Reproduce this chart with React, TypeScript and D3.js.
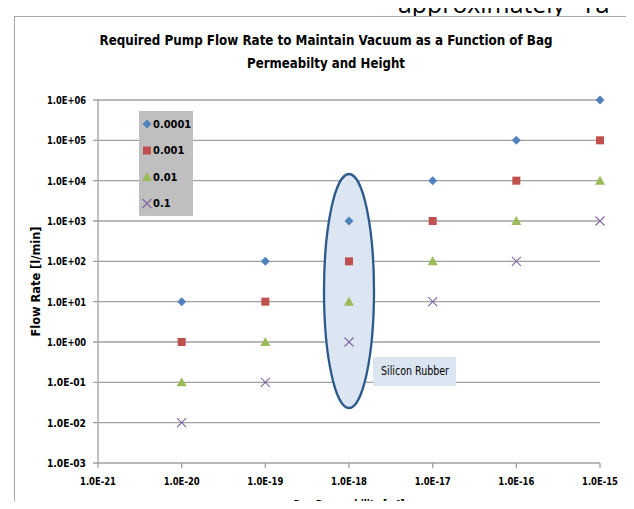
import * as d3 from 'd3';

const W = 634;
const H = 509;
const MARGIN = { top: 100, right: 34, bottom: 46, left: 98 };

const TITLE_LINES = [
  'Required Pump Flow Rate to Maintain Vacuum as a Function of Bag',
  'Permeabilty and Height',
];
const TITLE_WIDTHS = [453, 158];

const PERMEABILITY = [1e-20, 1e-19, 1e-18, 1e-17, 1e-16, 1e-15];
const X_TICKS = [1e-21, 1e-20, 1e-19, 1e-18, 1e-17, 1e-16, 1e-15];
const Y_TICKS = [1e-3, 1e-2, 1e-1, 1e0, 1e1, 1e2, 1e3, 1e4, 1e5, 1e6];

const SERIES_NAMES = ['0.0001', '0.001', '0.01', '0.1'];
const FLOW_00001 = [1e1, 1e2, 1e3, 1e4, 1e5, 1e6];
const FLOW_0001 = [1e0, 1e1, 1e2, 1e3, 1e4, 1e5];
const FLOW_001 = [1e-1, 1e0, 1e1, 1e2, 1e3, 1e4];
const FLOW_01 = [1e-2, 1e-1, 1e0, 1e1, 1e2, 1e3];

const COLORS = ['#4f81bd', '#c0504d', '#9bbb59', '#8064a2'];
const FONT = '"Liberation Sans Narrow", "DejaVu Sans Condensed", Arial, sans-serif';
const GRID = '#a0a0a0';

const fmt = (v: number) => {
  const e = Math.round(Math.log10(v));
  const sign = e < 0 ? '-' : '+';
  return `1.0E${sign}${String(Math.abs(e)).padStart(2, '0')}`;
};

function Marker({ kind, x, y }: { kind: number; x: number; y: number }) {
  if (kind === 0) {
    const s = 4.5;
    return <path d={`M${x},${y - s}L${x + s},${y}L${x},${y + s}L${x - s},${y}Z`} fill={COLORS[0]} />;
  }
  if (kind === 1) {
    return <rect x={x - 4} y={y - 4} width={8} height={8} fill={COLORS[1]} />;
  }
  if (kind === 2) {
    return <path d={`M${x},${y - 5}L${x + 5},${y + 4}L${x - 5},${y + 4}Z`} fill={COLORS[2]} />;
  }
  const s = 4.5;
  return (
    <path
      d={`M${x - s},${y - s}L${x + s},${y + s}M${x - s},${y + s}L${x + s},${y - s}`}
      stroke={COLORS[3]}
      strokeWidth={1.1}
      fill="none"
    />
  );
}

export default function App() {
  const x = d3.scaleLog().domain([1e-21, 1e-15]).range([MARGIN.left, W - MARGIN.right]);
  const y = d3.scaleLog().domain([1e-3, 1e6]).range([H - MARGIN.bottom, MARGIN.top]);
  const series = [FLOW_00001, FLOW_0001, FLOW_001, FLOW_01];
  const x0 = x.range()[0];
  const x1 = x.range()[1];
  const yB = y.range()[0];

  // silicon rubber callout sits on the 1e-18 column
  const cx = x(1e-18);

  return (
    <div style={{ margin: -8 }}>
      <svg width={W} height={H} style={{ display: 'block', background: '#fff' }}>
        {/* slide text that bleeds in from above */}
        <text
          x={398}
          y={13}
          fontFamily='"Open Sans", "Noto Sans", sans-serif'
          fontSize={26}
          fill="#000"
        >
          <tspan textLength={167} lengthAdjust="spacingAndGlyphs">approximately</tspan>
          <tspan x={581}>Ta</tspan>
        </text>
        <rect x={14.5} y={16.5} width={618} height={500} fill="#fff" stroke="#a6a6a6" strokeWidth={1} />

        {TITLE_LINES.map((t, i) => (
          <text
            key={i}
            x={326}
            y={45 + i * 23}
            textAnchor="middle"
            textLength={TITLE_WIDTHS[i]}
            lengthAdjust="spacingAndGlyphs"
            fontFamily={FONT}
            fontWeight="bold"
            fontSize={14}
            fill="#000"
          >
            {t}
          </text>
        ))}

        {/* gridlines */}
        {Y_TICKS.map(t => (
          <g key={t}>
            <line x1={x0 - 5} x2={x1} y1={y(t)} y2={y(t)} stroke={GRID} strokeWidth={1.3} />
            <text
              x={x0 - 12}
              y={y(t)}
              dy="0.35em"
              textAnchor="end"
              textLength={39}
              lengthAdjust="spacingAndGlyphs"
              fontFamily={FONT}
              fontWeight="bold"
              fontSize={11}
              fill="#000"
            >
              {fmt(t)}
            </text>
          </g>
        ))}
        <line x1={x0} x2={x0} y1={y.range()[1]} y2={yB} stroke={GRID} strokeWidth={1.3} />
        {X_TICKS.map(t => (
          <g key={t}>
            <line x1={x(t)} x2={x(t)} y1={yB} y2={yB + 5} stroke={GRID} strokeWidth={1.3} />
            <text
              x={x(t)}
              y={yB + 22}
              textAnchor="middle"
              textLength={36}
              lengthAdjust="spacingAndGlyphs"
              fontFamily={FONT}
              fontWeight="bold"
              fontSize={11}
              fill="#000"
            >
              {fmt(t)}
            </text>
          </g>
        ))}

        {/* callout */}
        <ellipse cx={cx} cy={291} rx={25} ry={117} fill="#dce6f2" stroke="#2c5a8c" strokeWidth={2.3} />
        <rect x={373} y={357} width={83} height={29} fill="#dbe5f1" />
        <text x={381} y={375} textLength={68} lengthAdjust="spacingAndGlyphs" fontFamily={FONT} fontSize={11.5} fill="#000">
          Silicon Rubber
        </text>

        {series.map((vals, si) =>
          vals.map((v, i) => <Marker key={`${si}-${i}`} kind={si} x={x(PERMEABILITY[i])} y={y(v)} />)
        )}

        {/* legend */}
        <rect x={139} y={111} width={54} height={105} fill="#bfbfbf" />
        {SERIES_NAMES.map((n, i) => (
          <g key={n}>
            <Marker kind={i} x={147} y={124 + i * 26.5} />
            <text
              x={153}
              y={124 + i * 26.5}
              dy="0.35em"
              fontFamily={FONT}
              fontWeight="bold"
              fontSize={11}
              fill="#000"
            >
              {n}
            </text>
          </g>
        ))}

        <text
          transform={`translate(40,${(y.range()[0] + y.range()[1]) / 2}) rotate(-90)`}
          textAnchor="middle"
          textLength={110}
          lengthAdjust="spacingAndGlyphs"
          fontFamily={FONT}
          fontWeight="bold"
          fontSize={12.5}
          fill="#000"
        >
          Flow Rate [l/min]
        </text>
        <text
          x={349}
          y={509}
          textAnchor="middle"
          textLength={111}
          lengthAdjust="spacingAndGlyphs"
          fontFamily={FONT}
          fontWeight="bold"
          fontSize={13}
          fill="#000"
        >
          Bag Permeability [m²]
        </text>
      </svg>
    </div>
  );
}
